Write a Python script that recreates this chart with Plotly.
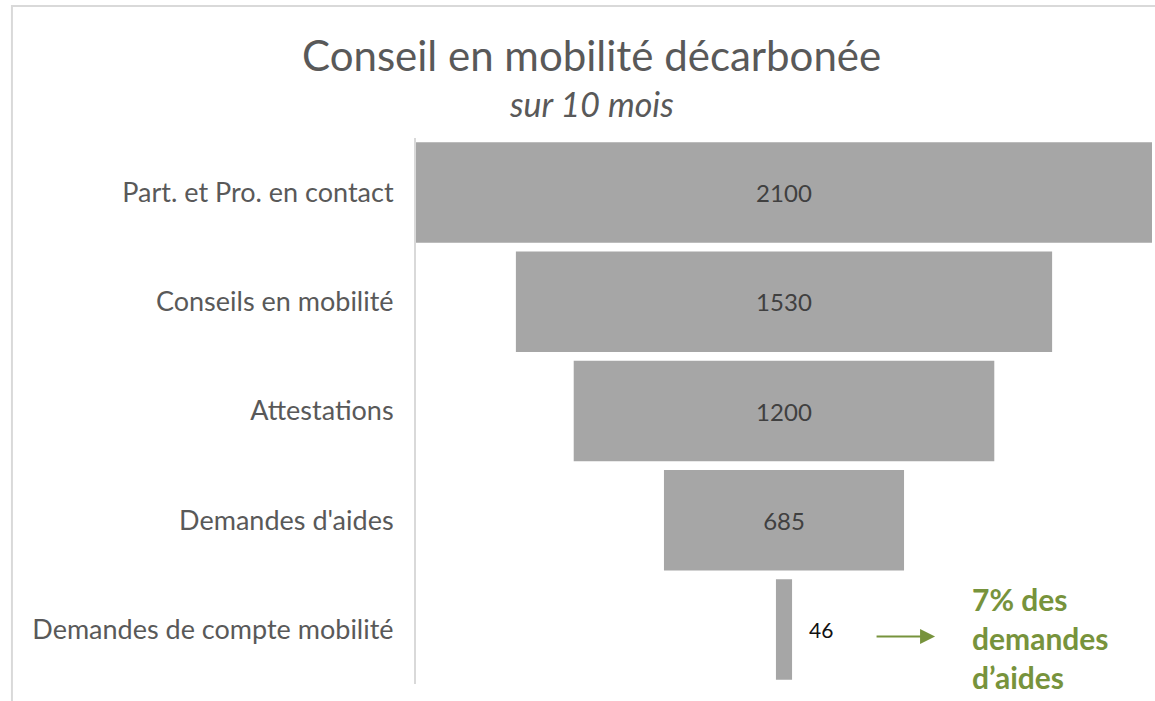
import plotly.graph_objects as go

categories = ["Part. et Pro. en contact", "Conseils en mobilité", "Attestations",
              "Demandes d'aides", "Demandes de compte mobilité"]
values = [2100, 1530, 1200, 685, 46]
title_text = "Conseil en mobilité décarbonée"
subtitle_text = "sur 10 mois"
note_text = "7% des<br>demandes<br>d’aides"

FONT = "Lato"
GREEN = "#77933c"
BAR = "#a6a6a6"

fig = go.Figure()
fig.add_trace(go.Funnel(
    y=categories,
    x=values,
    textinfo="value",
    textposition=["inside"] * (len(values) - 1) + ["none"],
    textfont=dict(family=FONT, size=24, color="#404040"),
    insidetextanchor="middle",
    marker=dict(color=BAR, line=dict(width=0)),
    connector=dict(visible=False),
    hoverinfo="x+y",
))

# value label beside the smallest bar
fig.add_annotation(x=values[-1] / 2, y=categories[-1], xref="x", yref="y",
                   text=str(values[-1]), showarrow=False, xanchor="left",
                   xshift=15, font=dict(family=FONT, size=21, color="#111111"))

# arrow + green note
fig.add_annotation(x=431, y=categories[-1], xref="x", yref="y",
                   ax=-60, ay=0, axref="pixel", ayref="pixel", yshift=-7,
                   text="", showarrow=True, arrowhead=2, arrowsize=1.5,
                   arrowwidth=2, arrowcolor=GREEN)
fig.add_annotation(x=531, y=categories[-1], xref="x", yref="y",
                   text=note_text, showarrow=False, xanchor="left",
                   yanchor="middle", align="left", yshift=-9,
                   font=dict(family=FONT, size=30, color=GREEN, weight="bold"))

# title and subtitle
fig.add_annotation(x=0.239, y=1.152, xref="paper", yref="paper",
                   text=title_text, showarrow=False, xanchor="center", yanchor="middle",
                   font=dict(family=FONT, size=42, color="#595959"))
fig.add_annotation(x=0.239, y=1.064, xref="paper", yref="paper",
                   text=subtitle_text, showarrow=False, xanchor="center", yanchor="middle",
                   font=dict(family=FONT, size=34, color="#595959", style="italic"))

# light frame of the chart area
fig.add_shape(type="rect", xref="paper", yref="paper",
              x0=-0.549, y0=-0.2, x1=1.05, y1=1.2418,
              line=dict(color="#d9d9d9", width=2), fillcolor="rgba(0,0,0,0)", layer="below")

fig.update_layout(
    width=1155, height=701,
    margin=dict(l=416, r=3, t=138, b=17),
    paper_bgcolor="white", plot_bgcolor="white",
    funnelgap=0.08,
    showlegend=False,
    font=dict(family=FONT, color="#595959"),
    xaxis=dict(visible=False, range=[-1050, 1050], fixedrange=True),
    yaxis=dict(showline=True, linecolor="#d9d9d9", linewidth=2,
               ticks="", ticklabelstandoff=15, showgrid=False,
               tickfont=dict(family=FONT, size=27, color="#595959")),
)

fig.write_html("out.html", config={"displayModeBar": False},
               post_script="document.body.style.margin='0';document.body.style.overflow='hidden';")
